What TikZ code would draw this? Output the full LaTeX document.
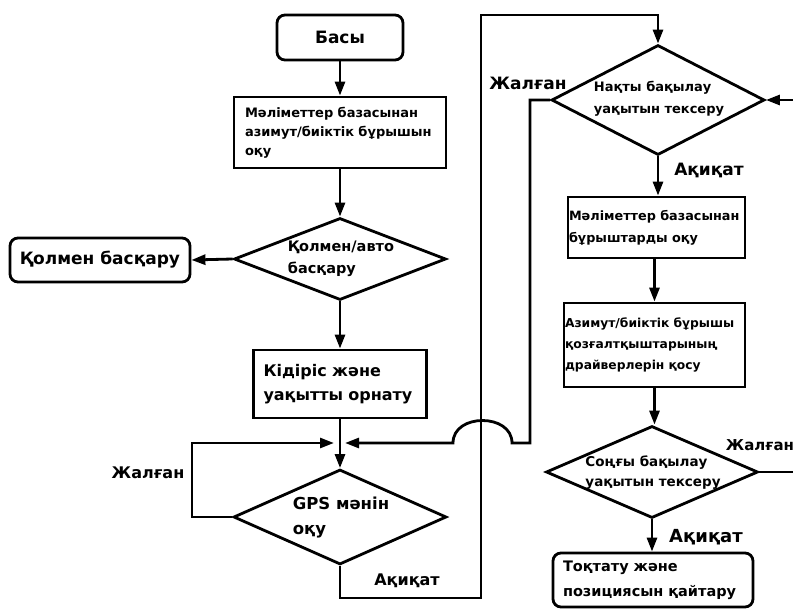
\documentclass[tikz,border=0pt]{standalone}
\usepackage{fontspec}
\setmainfont{DejaVu Sans}
\usetikzlibrary{shapes.geometric,arrows.meta}
\begin{document}
\begin{tikzpicture}[x=1pt,y=-1pt,line width=2.8pt,
  every node/.style={font=\bfseries},
  fs/.style args={#1/#2}{font=\fontsize{#1}{#2}\selectfont\bfseries},
  sbox/.style={draw, rectangle, align=left},
  rbox/.style={draw, rectangle, rounded corners=8pt, align=left},
  dia/.style={draw, diamond, inner sep=0pt},
  txt/.style={align=left, inner sep=0pt},
  lab/.style={inner sep=0pt},
  arr/.style={-{Triangle[length=14pt,width=10pt]}}]
\useasboundingbox[fill=white] (0,0) rectangle (793,610);

% left column
\node[rbox, minimum width=126pt, minimum height=45pt, fs=17/20] (start) at (340,37.5) {Басы};
\node[sbox, minimum height=71pt, text width=190pt, inner xsep=11pt, fs=13/19] (box1) at (340,132.5)
  {Мәліметтер базасынан\\азимут/биіктік бұрышын\\оқу};
\node[dia, minimum width=212pt, minimum height=82pt] (d1) at (340,259) {};
\node[txt, fs=14.5/22] (d1t) at (341,259) {Қолмен/авто\\басқару};
\node[rbox, minimum width=180pt, minimum height=44pt, fs=17/20] (manual) at (100,260) {Қолмен басқару};
\node[sbox, minimum width=173pt, minimum height=68pt, text width=153pt, inner xsep=10pt, fs=16/24] (box2) at (340,384)
  {Кідіріс және\\уақытты орнату};
\node[dia, minimum width=213pt, minimum height=95pt] (d2) at (340,517) {};
\node[txt, fs=16.5/25] (d2t) at (341,518) {GPS мәнін\\оқу};

% right column
\node[dia, minimum width=213pt, minimum height=110pt] (d3) at (658,100) {};
\node[txt, fs=13/22] (d3t) at (659,99) {Нақты бақылау\\уақытын тексеру};
\node[sbox, minimum height=61pt, text width=175pt, inner xsep=1pt, fs=12.8/22] (box3) at (656.5,227.5)
  {Мәліметтер базасынан\\бұрыштарды оқу};
\node[sbox, minimum height=84pt, text width=179pt, inner xsep=1pt, fs=12.3/21] (box4) at (654.5,345)
  {Азимут/биіктік бұрышы\\қозғалтқыштарының\\драйверлерін қосу};
\node[dia, minimum width=212pt, minimum height=92pt] (d4) at (652,472) {};
\node[txt, fs=13.5/20] (d4t) at (653,473) {Соңғы бақылау\\уақытын тексеру};
\node[rbox, minimum height=54pt, text width=180pt, inner xsep=10pt, fs=14.5/25] (stop) at (653,580)
  {Тоқтату және\\позициясын қайтару};

% labels
\node[lab, fs=16/20] (lf1) at (148,473) {Жалған};
\node[lab, fs=16/20] (lt1) at (407,581) {Ақиқат};
\node[lab, fs=17/20] (lf2) at (528,83) {Жалған};
\node[lab, fs=17/20] (lt2) at (709,170) {Ақиқат};
\node[lab, fs=15/20] (lf3) at (760,445) {Жалған};
\node[lab, fs=18/20] (lt3) at (706,537) {Ақиқат};

% coordinates
\coordinate (jl) at (334,443);
\coordinate (jr) at (345,443);
\coordinate (e1) at (795,100);
\coordinate (e2) at (795,472);

% connectors
\draw[arr] (start.south) -- (box1.north);
\draw[arr] (box1.south) -- (d1.north);
\draw[arr] (d1.west) -- (manual.east);
\draw[arr] (d1.south) -- (box2.north);
\draw[arr] (box2.south) -- (d2.north);
\draw[arr] (d2.west) -- (192,517) -- (192,443) -- (jl);
\draw[arr] (d3.west) -- (530,100) -- (530,443) -- (512,443)
  .. controls (512,413) and (453,413) .. (453,443) -- (jr);
\draw[arr] (d2.south) -- (340,598) -- (481,598) -- (481,15) -- (658,15) -- (d3.north);
\draw[arr] (d3.south) -- (d3.south |- box3.north);
\draw[arr] (box3.south -| box4.north) -- (box4.north);
\draw[arr] (box4.south) -- (box4.south |- d4.north);
\draw (d4.east) -- (e2);
\draw[arr] (e1) -- (d3.east);
\draw[arr] (d4.south) -- (d4.south |- stop.north);
\end{tikzpicture}
\end{document}
